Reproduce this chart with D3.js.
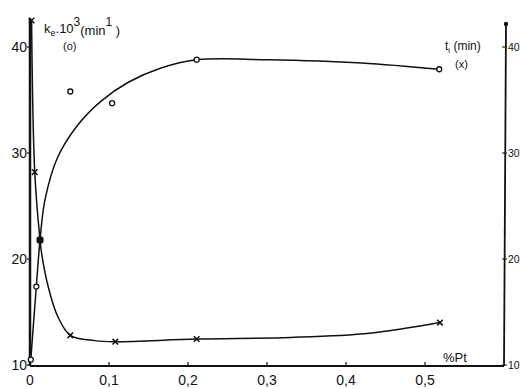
<!DOCTYPE html>
<html>
<head>
<meta charset="utf-8">
<script src="https://cdn.jsdelivr.net/npm/d3@7"></script>
<style>
  body { margin: 0; background: #fff; }
  svg { display: block; }
  text { font-family: "Liberation Sans", Arial, sans-serif; fill: #111; }
</style>
</head>
<body>
<div id="chart"></div>
<script>
// % Pt on the x axis
const xTicks = [0, 0.1, 0.2, 0.3, 0.4, 0.5];
const xTickLabels = ['0', '0,1', '0,2', '0,3', '0,4', '0,5'];
const yTicks = [10, 20, 30, 40];

// ke.10^3 (min-1), circles
const kePt = [0.001, 0.008, 0.0127, 0.051, 0.104, 0.211, 0.518];
const keVal = [10.5, 17.4, 21.8, 35.8, 34.7, 38.8, 37.9];
// hand-drawn fitted line for ke
const keFitPt = [0.001, 0.008, 0.0127, 0.019, 0.035, 0.06, 0.09, 0.125, 0.165, 0.211, 0.30, 0.42, 0.518];
const keFitVal = [10.5, 17.4, 21.8, 25.6, 29.6, 32.6, 34.9, 36.7, 38.0, 38.8, 38.8, 38.5, 37.9];

// ti (min), crosses
const tiPt = [0.002, 0.006, 0.0127, 0.051, 0.108, 0.211, 0.519];
const tiVal = [42.5, 28.2, 21.8, 12.8, 12.2, 12.45, 14.0];
// line for ti
const tiFitPt = [0.002, 0.006, 0.0127, 0.015, 0.023, 0.035, 0.051, 0.082, 0.108, 0.211, 0.33, 0.43, 0.519];
const tiFitVal = [42.5, 28.2, 21.8, 20.4, 17.4, 14.6, 12.8, 12.3, 12.2, 12.45, 12.6, 13.0, 14.0];

const width = 520, height = 389;
const svg = d3.select('#chart').append('svg')
  .attr('width', width)
  .attr('height', height);

const x = d3.scaleLinear().domain([0, 0.6]).range([30, 504]);
const y = d3.scaleLinear().domain([10, 40]).range([365, 47]);

// axis lines
const axisG = svg.append('g').attr('stroke', '#111').attr('fill', 'none');
axisG.append('line')
  .attr('x1', x(0)).attr('x2', x(0.6))
  .attr('y1', y(10) + 1).attr('y2', y(10) + 1)
  .attr('stroke-width', 2);
axisG.append('line')
  .attr('x1', x(0)).attr('x2', x(0))
  .attr('y1', y(10) + 1).attr('y2', 18)
  .attr('stroke-width', 2.5);
axisG.append('line')
  .attr('x1', x(0.6)).attr('x2', x(0.6) + 2)
  .attr('y1', y(10) + 1).attr('y2', 24)
  .attr('stroke-width', 1.8);
svg.append('circle')
  .attr('cx', x(0.6) + 2).attr('cy', 24).attr('r', 2.2).attr('fill', '#111');

// x ticks
svg.append('g').selectAll('line')
  .data(xTicks.slice(1))
  .join('line')
  .attr('x1', d => x(d)).attr('x2', d => x(d))
  .attr('y1', y(10) - 3).attr('y2', y(10) + 1)
  .attr('stroke', '#111').attr('stroke-width', 1.2);
svg.append('g').selectAll('text')
  .data(xTicks)
  .join('text')
  .attr('x', d => x(d))
  .attr('y', 385)
  .attr('text-anchor', 'middle')
  .attr('font-size', 14)
  .text((d, i) => xTickLabels[i]);

// left y ticks
svg.append('g').selectAll('line')
  .data(yTicks)
  .join('line')
  .attr('x1', x(0) - 3).attr('x2', x(0))
  .attr('y1', d => y(d)).attr('y2', d => y(d))
  .attr('stroke', '#111').attr('stroke-width', 1.2);
svg.append('g').selectAll('text')
  .data(yTicks)
  .join('text')
  .attr('x', 27)
  .attr('y', d => y(d) + 5)
  .attr('text-anchor', 'end')
  .attr('font-size', 14)
  .text(d => d);

// right y ticks
svg.append('g').selectAll('line')
  .data(yTicks)
  .join('line')
  .attr('x1', x(0.6) - 2).attr('x2', x(0.6) + 3)
  .attr('y1', d => y(d)).attr('y2', d => y(d))
  .attr('stroke', '#111').attr('stroke-width', 1);
svg.append('g').selectAll('text')
  .data(yTicks)
  .join('text')
  .attr('x', x(0.6) + 4)
  .attr('y', d => y(d) + 4)
  .attr('font-size', 10.5)
  .attr('fill', '#333')
  .text(d => d);

// curves
const line = d3.line()
  .x(d => x(d[0]))
  .y(d => y(d[1]))
  .curve(d3.curveCatmullRom.alpha(0.5));

svg.append('path')
  .datum(keFitPt.map((p, i) => [p, keFitVal[i]]))
  .attr('d', line)
  .attr('fill', 'none').attr('stroke', '#111').attr('stroke-width', 1.5);

svg.append('path')
  .datum(tiFitPt.map((p, i) => [p, tiFitVal[i]]))
  .attr('d', line)
  .attr('fill', 'none').attr('stroke', '#111').attr('stroke-width', 1.5);

// circles (ke)
svg.append('g').selectAll('circle')
  .data(kePt.map((p, i) => [p, keVal[i]]))
  .join('circle')
  .attr('cx', d => x(d[0]))
  .attr('cy', d => y(d[1]))
  .attr('r', (d, i) => i === 2 ? 3 : 2.5)
  .attr('fill', (d, i) => i === 2 ? '#111' : '#fff')
  .attr('stroke', '#111').attr('stroke-width', 1.3);

// crosses (ti)
const cross = d3.symbol().type(d3.symbolX).size(22);
svg.append('g').selectAll('path')
  .data(tiPt.map((p, i) => [p, tiVal[i]]))
  .join('path')
  .attr('transform', d => `translate(${x(d[0])},${y(d[1])})`)
  .attr('d', cross)
  .attr('fill', 'none')
  .attr('stroke', '#111').attr('stroke-width', 1.5);

// axis titles
const kLabel = svg.append('text').attr('x', 44).attr('y', 33).attr('font-size', 13);
kLabel.append('tspan').text('k');
kLabel.append('tspan').attr('font-size', 9).attr('dy', 3).text('e');
kLabel.append('tspan').attr('dy', -3).text('.10');
kLabel.append('tspan').attr('font-size', 12).attr('dy', -7).text('3');
kLabel.append('tspan').attr('dy', 9).text('(min');
kLabel.append('tspan').attr('font-size', 12).attr('dy', -9).text('1');
kLabel.append('tspan').attr('dy', 9).text(' )');
svg.append('text').attr('x', 63).attr('y', 50).attr('font-size', 11).text('(o)');

const tLabel = svg.append('text').attr('x', 445).attr('y', 50).attr('font-size', 12);
tLabel.append('tspan').text('t');
tLabel.append('tspan').attr('font-size', 8).attr('dy', 3).text('i');
tLabel.append('tspan').attr('dy', -3).text(' (min)');
svg.append('text').attr('x', 455).attr('y', 68).attr('font-size', 11).text('(x)');

svg.append('text').attr('x', 443).attr('y', 362).attr('font-size', 13).text('%Pt');
</script>
</body>
</html>
